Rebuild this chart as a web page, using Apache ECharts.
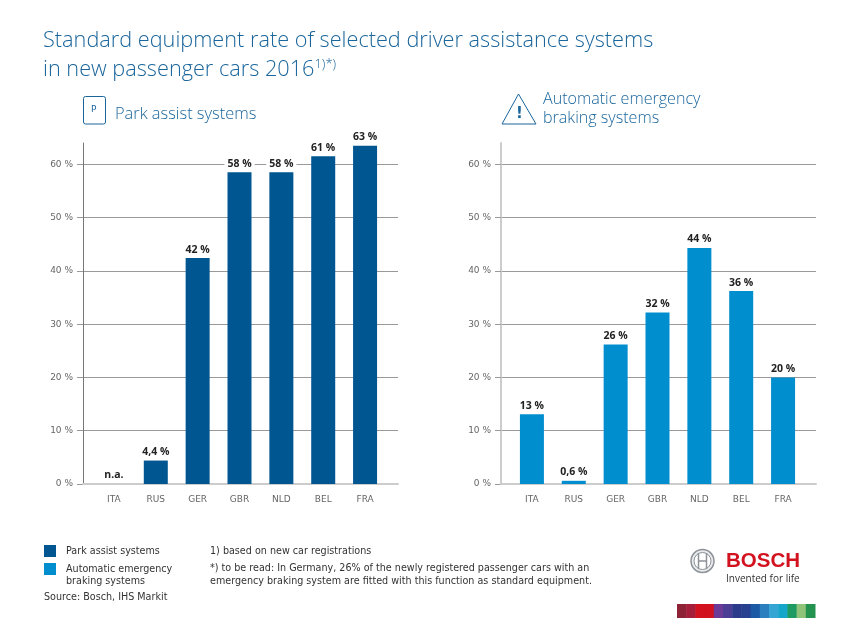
<!DOCTYPE html>
<html><head><meta charset="utf-8">
<style>html,body{margin:0;padding:0;background:#fff}#c{width:850px;height:618px}</style>
<script src="https://cdn.jsdelivr.net/npm/echarts@6/dist/echarts.min.js"></script>
</head><body><div id="c"></div>
<script>
const categoriesLeft = ['ITA','RUS','GER','GBR','NLD','BEL','FRA'];
const categoriesRight = ['ITA','RUS','GER','GBR','NLD','BEL','FRA'];
const parkValues = [0, 4.4, 42.4, 58.5, 58.5, 61.5, 63.5];
const parkLabels = ['n.a.', '4,4 %', '42 %', '58 %', '58 %', '61 %', '63 %'];
const brakeValues = [13.1, 0.6, 26.2, 32.2, 44.3, 36.2, 20];
const brakeLabels = ['13 %', '0,6 %', '26 %', '32 %', '44 %', '36 %', '20 %'];
const yTicks = [0, 10, 20, 30, 40, 50, 60];
const parkName = 'Park assist systems';
const brakeName = 'Automatic emergency';
const stripColors = ['#8e2236','#a51e3a','#d3121f','#d3121f','#6a3a96','#4c3d94','#2c3a8c','#27408f','#1d5aa6','#2b7fbf','#35a5d6','#16a6c9','#1f9a63','#8fc37a','#23934f'];

const FONT = '"DejaVu Sans"';
const TITLE = '"Open Sans"';
const BLUE = '#1a659b';
const yMax = 64;

function yAxisBack(gridIndex, axisColor, axisWidth) {
  return {
    type:'value', gridIndex, min:0, max:yMax, interval:10,
    axisLine:{show:true, lineStyle:{color:axisColor, width:axisWidth}},
    axisTick:{show:true, length:6, customValues:yTicks, lineStyle:{color:'#999'}},
    axisLabel:{margin:10, color:'#666', fontFamily:FONT, fontSize:9, customValues:yTicks, formatter:v=> v+' %'},
    splitLine:{show:true, showMinLine:false, showMaxLine:true, lineStyle:{color:'#999', width:1}}
  };
}
function yAxisFront(gridIndex) {
  return {type:'value', gridIndex, min:0, max:yMax, interval:10, show:false, splitLine:{show:false}};
}
function xAxisBack(gridIndex) {
  return {type:'category', gridIndex, data:['',''], z:4, axisLine:{show:true,lineStyle:{color:'#ccc',width:2}}, axisTick:{show:false}, axisLabel:{show:false}};
}
function xAxisFront(gridIndex, data) {
  return {type:'category', gridIndex, data, axisLine:{show:false}, axisTick:{show:false},
    axisLabel:{margin:11, color:'#666', fontFamily:FONT, fontSize:9}};
}
function barSeries(name, values, labels, color, xi, yi) {
  return {
    name, type:'bar', xAxisIndex:xi, yAxisIndex:yi, barWidth:24, z:5,
    data:values, itemStyle:{color},
    label:{show:true, position:'top', distance:3, formatter:p=>labels[p.dataIndex],
      fontFamily:TITLE, fontWeight:'bold', fontSize:10.5, color:'#222',
      backgroundColor:'#fff', padding:[0,3,0,3]}
  };
}
function txt(x,y,text,style){return {type:'text',x,y,silent:true,style:Object.assign({text,fontFamily:FONT,fontSize:9.6,fill:'#333'},style)};}
function line(x1,y1,x2,y2,w){return {type:'line',silent:true,shape:{x1,y1,x2,y2},style:{stroke:'#8c9297',lineWidth:w}};}

const stripW = 138/stripColors.length;
const option = {
  animation:false,
  backgroundColor:'#fff',
  title:{
    left:38, top:21,
    text:'{t|Standard equipment rate of selected driver assistance systems}\n{t|in new passenger cars 2016}{s|1)*)}',
    textStyle:{rich:{
      t:{fontFamily:TITLE,fontWeight:300,fontSize:21.7,lineHeight:29,color:BLUE},
      s:{fontFamily:TITLE,fontWeight:300,fontSize:13,color:BLUE,verticalAlign:'top',lineHeight:20,padding:[3,0,0,0]}
    }}
  },
  legend:{
    show:true, selectedMode:false, orient:'vertical', left:39, top:540, icon:'rect',
    itemWidth:12, itemHeight:12, itemGap:6,
    data:[parkName, brakeName],
    textStyle:{fontFamily:FONT,fontSize:9.6,color:'#333',padding:[0,0,0,5]}
  },
  grid:[
    {left:83,right:850-398,top:143,bottom:618-484},
    {left:93,right:850-386,top:143,bottom:618-484},
    {left:501,right:850-816,top:143,bottom:618-484},
    {left:511,right:850-804,top:143,bottom:618-484}
  ],
  xAxis:[xAxisBack(0),xAxisFront(1,categoriesLeft),xAxisBack(2),xAxisFront(3,categoriesRight)],
  yAxis:[yAxisBack(0,'#777',1),yAxisFront(1),yAxisBack(2,'#ccc',2),yAxisFront(3)],
  series:[
    barSeries(parkName,parkValues,parkLabels,'#005691',1,1),
    barSeries(brakeName,brakeValues,brakeLabels,'#008ecf',3,3)
  ],
  graphic:[
    {type:'rect',silent:true,shape:{x:83.5,y:96.5,width:22,height:27.5,r:2},style:{fill:'#fff',stroke:BLUE,lineWidth:1}},
    txt(91,105,'P',{fontSize:9,fill:BLUE}),
    txt(115,106,'Park assist systems',{fontFamily:TITLE,fontWeight:300,fontSize:16.4,fill:BLUE}),
    {type:'polygon',silent:true,shape:{points:[[518.5,94],[536,124],[502,124]]},style:{fill:'#fff',stroke:BLUE,lineWidth:1}},
    txt(516,107,'!',{fontSize:15,fill:BLUE,fontWeight:'bold'}),
    txt(543,91.5,'Automatic emergency',{fontFamily:TITLE,fontWeight:300,fontSize:16.1,fill:BLUE}),
    txt(543,110.5,'braking systems',{fontFamily:TITLE,fontWeight:300,fontSize:16.1,fill:BLUE}),
    txt(66,576,'braking systems'),
    txt(44,592,'Source: Bosch, IHS Markit'),
    txt(210,546,'1) based on new car registrations'),
    txt(210,563,'*) to be read: In Germany, 26% of the newly registered passenger cars with an'),
    txt(210,576,'emergency braking system are fitted with this function as standard equipment.'),
    {type:'circle',silent:true,shape:{cx:702.5,cy:561,r:11.5},style:{fill:'#e9ebed',stroke:'#8c9297',lineWidth:1.5}},
    {type:'circle',silent:true,shape:{cx:702.5,cy:561,r:8.5},style:{fill:'#fff',stroke:'#8c9297',lineWidth:1}},
    line(698.5,553,698.5,569,1.5), line(706.5,553,706.5,569,1.5), line(698.5,561,706.5,561,1.5),
    txt(726,551,'BOSCH',{fontFamily:'"Liberation Sans"',fontWeight:'bold',fontSize:20.5,fill:'#d3121f'}),
    txt(726,574,'Invented for life',{fontFamily:'"Open Sans"',fontSize:10,fill:'#333'}),
    ...stripColors.map((c,i)=>({type:'rect',silent:true,shape:{x:677+i*stripW,y:604,width:stripW+0.5,height:14},style:{fill:c}}))
  ]
};
echarts.init(document.getElementById('c'),null,{renderer:'canvas'}).setOption(option);
</script></body></html>
